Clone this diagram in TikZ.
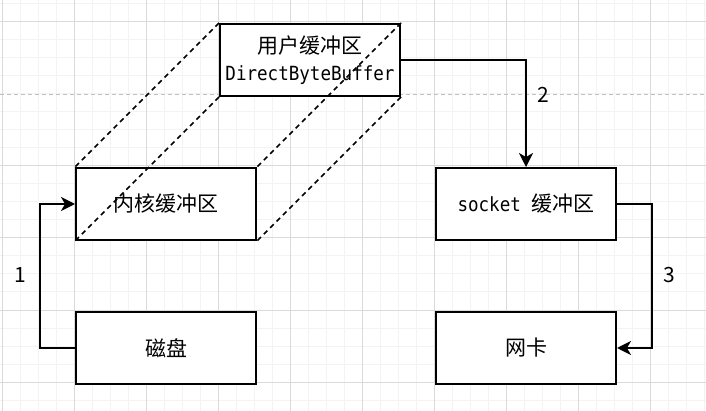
\documentclass[tikz,border=0pt]{standalone}
\usepackage{fontspec}
\newfontfamily\cjkf{Noto Sans CJK SC}
\newfontfamily\monof[FakeStretch=0.9]{DejaVu Sans Mono}
\usetikzlibrary{arrows.meta}
\definecolor{gridminor}{HTML}{F3F3F3}
\definecolor{gridmajor}{HTML}{DADADA}
\definecolor{pagebreak}{HTML}{C0C0C0}
\tikzset{
  box/.style={draw=black, line width=2pt, fill=white, minimum width=180pt, minimum height=72pt, inner sep=0pt, align=center, font=\fontsize{19.5pt}{27pt}\selectfont},
  conn/.style={draw=black, line width=1.5pt, -{Stealth[length=14pt,width=14pt,inset=4pt]}},
  ghost/.style={draw=black, line width=1.5pt, dash pattern=on 5pt off 4pt},
  numlabel/.style={font=\cjkf\fontsize{21pt}{25pt}\selectfont, inner sep=0pt}
}
\newcommand{\cjktext}[1]{{\cjkf\fontsize{21pt}{27pt}\selectfont #1}}
\begin{document}
\begin{tikzpicture}[x=1pt,y=-1pt]
\useasboundingbox (0,0) rectangle (706,411);
\fill[white] (0,0) rectangle (706,411);
% grid
\foreach \x in {2,20,...,704} \draw[gridminor, line width=1pt] (\x,0) -- (\x,411);
\foreach \y in {4,22,...,410} \draw[gridminor, line width=1pt] (0,\y) -- (706,\y);
\foreach \x in {2,74,...,704} \draw[gridmajor, line width=1pt] (\x,0) -- (\x,411);
\foreach \y in {22,166,238,310,382} \draw[gridmajor, line width=1pt] (0,\y) -- (706,\y);
\draw[pagebreak, line width=1pt, dash pattern=on 4pt off 3pt] (0,95) -- (706,95);
% boxes
\node[box] (user) at (310,60) {\cjktext{用户缓冲区}\\{\monof DirectByteBuffer}};
\node[box] (kernel) at (166,204) {\cjktext{内核缓冲区}};
\node[box] (socket) at (526,204) {{\monof socket }\cjktext{缓冲区}};
\node[box] (disk) at (166,348) {\cjktext{磁盘}};
\node[box] (nic) at (526,348) {\cjktext{网卡}};
% ghost lines
\draw[ghost] (user.north west) -- (kernel.north west);
\draw[ghost] (user.north east) -- (kernel.north east);
\draw[ghost] (user.south west) -- (kernel.south west);
\draw[ghost] (user.south east) -- (kernel.south east);
% connectors
\coordinate (c1) at (40,348);
\coordinate (c3) at (652,204);
\draw[conn] (disk.west) -- (c1) |- (kernel.west);
\draw[conn] (user.east) -| (socket.north);
\draw[conn] (socket.east) -- (c3) |- (nic.east);
% labels
\node[numlabel] (l1) at (20,275) {1};
\node[numlabel] (l2) at (543,95) {2};
\node[numlabel] (l3) at (669,275) {3};
\end{tikzpicture}
\end{document}
